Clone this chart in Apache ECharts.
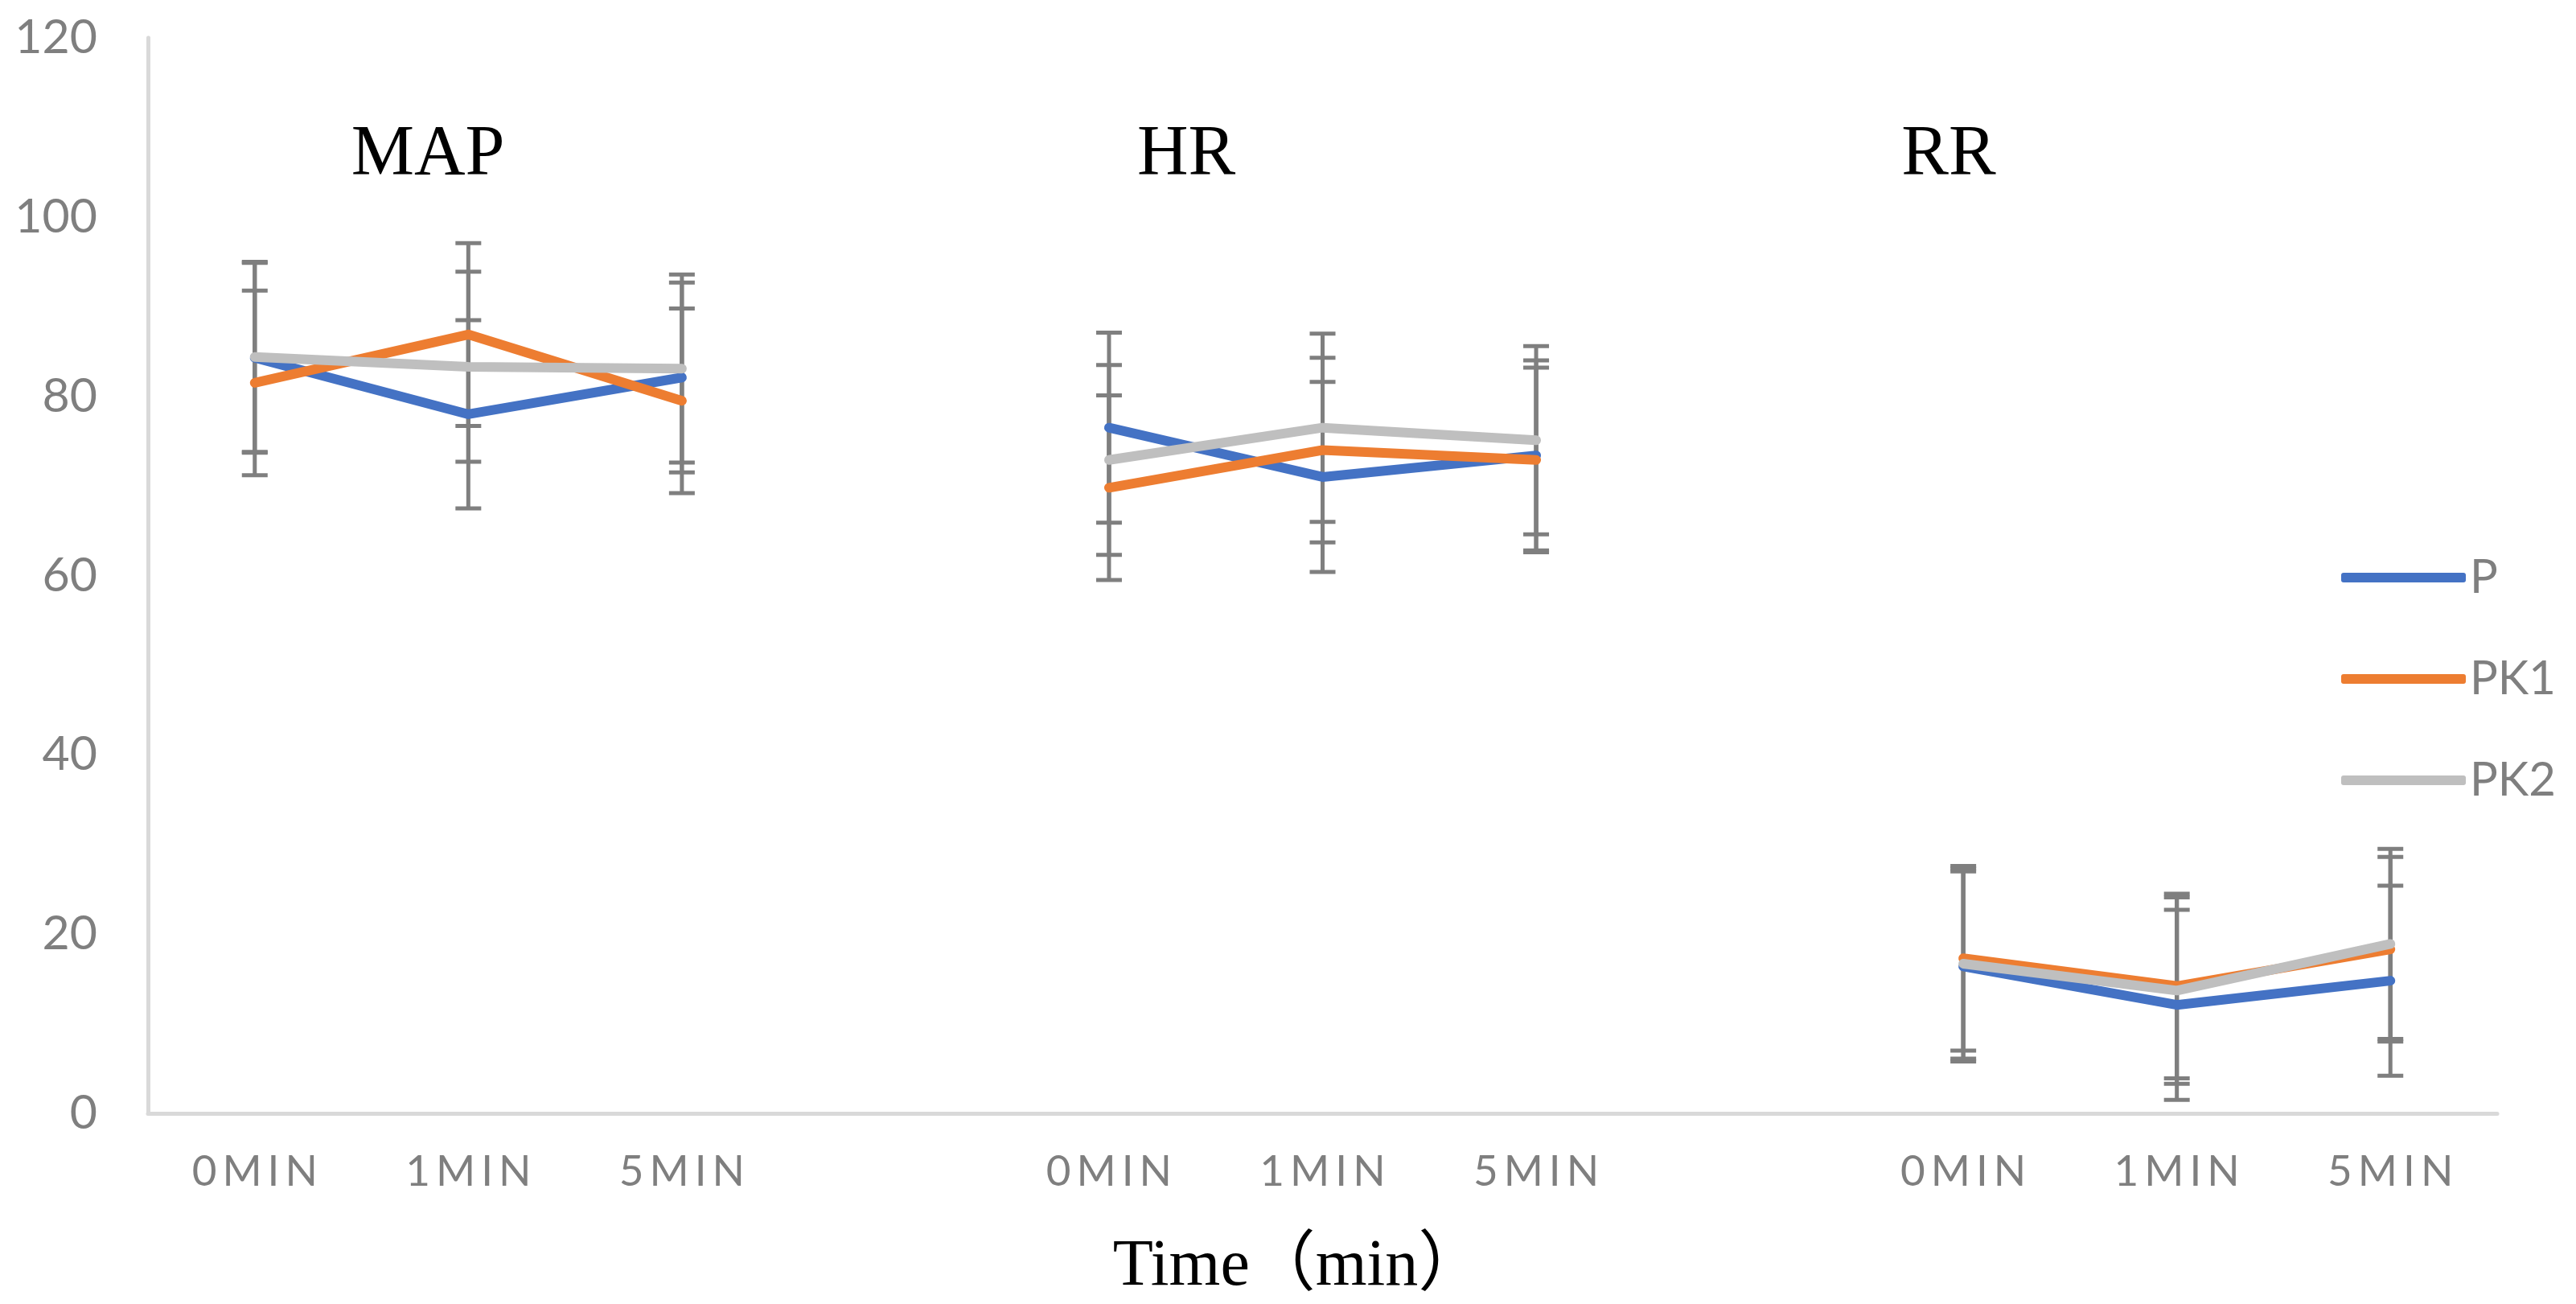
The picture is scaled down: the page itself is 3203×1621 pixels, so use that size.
<!DOCTYPE html>
<html>
<head>
<meta charset="utf-8">
<title>MAP / HR / RR</title>
<script src="https://cdn.jsdelivr.net/npm/echarts@6/dist/echarts.min.js"></script>
<style>
  html, body { margin: 0; padding: 0; background: #fff; }
  #chart { width: 3203px; height: 1621px; }
</style>
</head>
<body>
<div id="chart"></div>
<script>
// x categories: three groups (MAP, HR, RR) with an empty slot between them
var categories = ['0MIN', '1MIN', '5MIN', '', '0MIN', '1MIN', '5MIN', '', '0MIN', '1MIN', '5MIN'];
var groupNames = ['MAP', 'HR', 'RR'];
var yTicks = [0, 20, 40, 60, 80, 100, 120];

// means
var pMean   = [84.3, 78.0, 82.1, null, 76.5, 71.0, 73.4, null, 16.4, 12.1, 14.8];
var pk1Mean = [81.5, 86.9, 79.5, null, 69.8, 74.0, 72.9, null, 17.3, 14.2, 18.3];
var pk2Mean = [84.4, 83.3, 83.1, null, 72.9, 76.5, 75.1, null, 16.7, 13.7, 18.9];

// standard deviations (error bar half-lengths)
var pSd   = [10.6, 10.5, 10.6, null, 10.6, 10.6, 10.6, null, 10.6, 10.6, 10.6];
var pk1Sd = [10.3, 10.2, 10.3, null, 10.3, 10.3, 10.3, null, 10.3, 10.3, 10.3];
var pk2Sd = [10.6, 10.6, 10.5, null, 10.6, 10.5, 10.5, null, 10.6, 10.4, 10.6];

var seriesNames = ['P', 'PK1', 'PK2'];
var colors = ['#4472C4', '#ED7D31', '#BFBFBF'];

var chart = echarts.init(document.getElementById('chart'));

function errData(mean, sd) {
  var out = [];
  for (var i = 0; i < mean.length; i++) {
    if (mean[i] == null) continue;
    out.push([i, mean[i] - sd[i], mean[i] + sd[i]]);
  }
  return out;
}

function renderErr(params, api) {
  var x = api.value(0);
  var lo = api.coord([x, api.value(1)]);
  var hi = api.coord([x, api.value(2)]);
  var hw = 16;
  var st = { stroke: '#7F7F7F', lineWidth: 5 };
  return {
    type: 'group',
    children: [
      { type: 'line', shape: { x1: hi[0], y1: hi[1], x2: lo[0], y2: lo[1] }, style: st },
      { type: 'line', shape: { x1: hi[0] - hw, y1: hi[1], x2: hi[0] + hw, y2: hi[1] }, style: st },
      { type: 'line', shape: { x1: lo[0] - hw, y1: lo[1], x2: lo[0] + hw, y2: lo[1] }, style: st }
    ]
  };
}

// spread the letters of a category label a little, like the original
function spaced(v) {
  if (!v) return '';
  return v.split('').map(function (c) { return '{c|' + c + '}'; }).join('');
}

var means = [pMean, pk1Mean, pk2Mean];
var sds = [pSd, pk1Sd, pk2Sd];
var series = [];

for (var s = 0; s < 3; s++) {
  series.push({
    name: seriesNames[s] + '-err',
    type: 'custom',
    renderItem: renderErr,
    encode: { x: 0, y: [1, 2] },
    data: errData(means[s], sds[s]),
    z: 1,
    silent: true
  });
}
for (var s = 0; s < 3; s++) {
  series.push({
    name: seriesNames[s],
    type: 'line',
    data: means[s],
    connectNulls: false,
    symbol: 'none',
    color: colors[s],
    lineStyle: { width: 12, color: colors[s], cap: 'round', join: 'round' },
    z: 3
  });
}

var titleX = [532, 1475, 2423];
var graphics = groupNames.map(function (g, i) {
  return {
    type: 'text',
    x: titleX[i],
    y: 193,
    style: {
      text: g,
      font: '88px "Liberation Serif", "Times New Roman", serif',
      fill: '#000',
      textAlign: 'center',
      textVerticalAlign: 'middle'
    }
  };
});

var option = {
  backgroundColor: '#fff',
  animation: false,
  grid: { left: 184, right: 98, top: 47, bottom: 236 },
  legend: {
    data: seriesNames,
    orient: 'vertical',
    left: 2906,
    top: 678,
    icon: 'roundRect',
    itemWidth: 155,
    itemHeight: 12,
    itemGap: 56,
    textStyle: { fontFamily: 'Lato', fontSize: 58, color: '#7F7F7F', lineHeight: 70 }
  },
  xAxis: {
    type: 'category',
    data: categories,
    boundaryGap: true,
    axisTick: { show: false },
    axisLine: { lineStyle: { color: '#D9D9D9', width: 5 } },
    axisLabel: {
      interval: 0,
      margin: 46,
      fontFamily: 'Lato',
      fontSize: 53,
      color: '#7F7F7F',
      formatter: spaced,
      rich: { c: { fontFamily: 'Lato', fontSize: 53, color: '#7F7F7F', padding: [0, 3.5, 0, 3.5] } }
    },
    name: 'Time（min）',
    nameLocation: 'middle',
    nameGap: 150,
    nameTextStyle: {
      fontFamily: '"Liberation Serif", "Noto Sans CJK SC", serif',
      fontSize: 82,
      color: '#000',
      padding: [0, 60, 0, 0]
    }
  },
  yAxis: {
    type: 'value',
    min: yTicks[0],
    max: yTicks[yTicks.length - 1],
    interval: yTicks[1] - yTicks[0],
    axisLine: { show: true, lineStyle: { color: '#D9D9D9', width: 5 } },
    axisTick: { show: false },
    splitLine: { show: false },
    axisLabel: { margin: 63, fontFamily: 'Lato', fontSize: 59, color: '#7F7F7F' }
  },
  graphic: graphics,
  series: series
};

chart.setOption(option);
</script>
</body>
</html>
